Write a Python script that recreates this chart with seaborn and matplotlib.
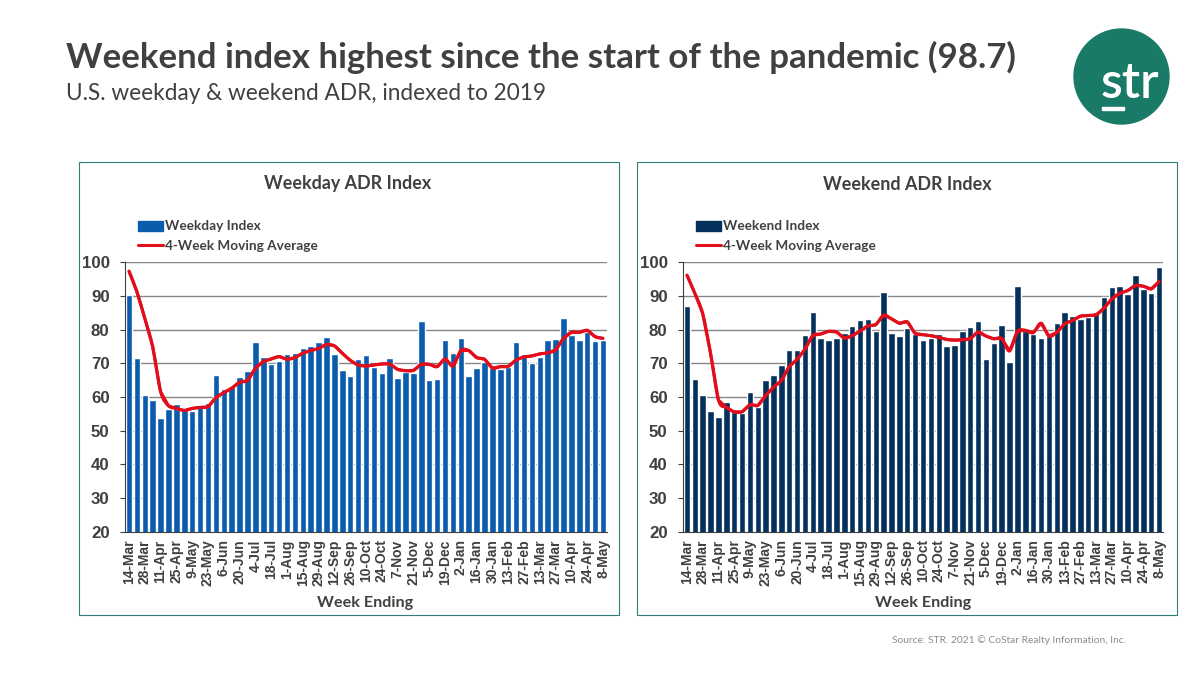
import matplotlib
matplotlib.use("Agg")
import matplotlib.pyplot as plt
from matplotlib.lines import Line2D
from matplotlib.patches import Circle, Patch, PathPatch, Rectangle
from matplotlib.path import Path
import numpy as np
import pandas as pd
import seaborn as sns

tick_labels = ["14-Mar", "28-Mar", "11-Apr", "25-Apr", "9-May", "23-May", "6-Jun", "20-Jun",
               "4-Jul", "18-Jul", "1-Aug", "15-Aug", "29-Aug", "12-Sep", "26-Sep", "10-Oct",
               "24-Oct", "7-Nov", "21-Nov", "5-Dec", "19-Dec", "2-Jan", "16-Jan", "30-Jan",
               "13-Feb", "27-Feb", "13-Mar", "27-Mar", "10-Apr", "24-Apr", "8-May"]

weekday_index = [90.3, 71.6, 60.6, 59.1, 53.8, 56.4, 57.9, 56.1, 55.8, 57.6,
                 58.2, 66.5, 62.4, 63.0, 65.9, 67.7, 76.3, 71.9, 69.8, 70.7,
                 72.8, 73.1, 74.6, 75.2, 76.3, 77.8, 72.8, 68.0, 66.2, 71.2,
                 72.5, 68.9, 67.1, 71.6, 65.6, 67.4, 67.1, 82.5, 65.0, 65.3,
                 76.9, 73.1, 77.5, 66.2, 68.6, 70.4, 68.6, 68.3, 69.0, 76.3,
                 72.8, 70.1, 71.9, 76.9, 77.2, 83.4, 78.4, 76.9, 79.4, 76.6, 76.9]
weekday_avg = [97.4, 91.3, 83.4, 75.0, 61.6, 57.4, 56.6, 56.0, 56.6, 56.9,
               57.1, 59.8, 61.3, 62.6, 64.4, 64.9, 68.5, 70.5, 71.3, 72.0,
               71.2, 71.7, 73.0, 73.8, 74.4, 75.6, 75.2, 73.0, 70.9, 69.5,
               69.2, 69.5, 69.8, 69.8, 68.2, 67.8, 67.9, 69.7, 69.7, 69.0,
               71.3, 69.2, 73.8, 73.8, 71.7, 71.2, 68.6, 69.0, 69.1, 71.0,
               71.9, 72.2, 72.8, 73.1, 74.0, 77.4, 79.2, 79.2, 79.8, 77.9, 77.4]

weekend_index = [87.0, 65.3, 60.6, 55.8, 54.1, 58.5, 55.6, 55.3, 61.5, 57.0,
                 65.0, 66.5, 69.5, 73.9, 73.9, 78.4, 85.2, 77.5, 76.9, 77.5,
                 79.0, 81.1, 82.9, 83.2, 79.6, 91.2, 79.0, 78.1, 80.5, 78.7,
                 76.9, 77.5, 78.7, 75.2, 75.4, 79.6, 80.8, 82.6, 71.3, 76.0,
                 81.4, 70.4, 93.0, 79.6, 78.7, 77.5, 78.1, 82.0, 85.2, 84.1,
                 83.2, 83.7, 85.2, 89.7, 92.7, 93.0, 90.6, 96.2, 92.0, 90.9, 98.7]
weekend_avg = [96.2, 90.8, 84.8, 73.0, 59.1, 56.9, 55.6, 55.6, 57.7, 57.5,
               60.4, 62.9, 64.9, 69.0, 71.2, 74.2, 78.3, 78.7, 79.5, 79.3,
               77.5, 78.2, 79.6, 81.1, 81.5, 84.3, 83.2, 81.9, 82.3, 78.9,
               78.5, 78.2, 77.7, 77.1, 76.9, 77.0, 77.3, 79.3, 78.1, 77.3,
               77.4, 73.7, 79.5, 79.8, 79.1, 81.9, 78.1, 79.2, 81.7, 82.7,
               84.0, 84.2, 84.4, 86.4, 89.1, 90.8, 91.6, 93.1, 92.9, 92.1, 94.3]

W, H = 1200, 675
TEXT = "#404040"
FRAME = "#2f7f78"
RED = "#e20e1c"
LINE_W = 2.2

sns.set_theme(style="white")
plt.rcParams["font.family"] = ["Lato", "DejaVu Sans"]

fig = plt.figure(figsize=(12, 6.75), dpi=100)

# full-slide layer, in pixels, for the frames, headings and logo
bg = fig.add_axes([0, 0, 1, 1], zorder=0)
bg.set_xlim(0, W)
bg.set_ylim(H, 0)
bg.axis("off")

bg.text(66, 57, "Weekend index highest since the start of the pandemic (98.7)", fontsize=25.1,
        fontweight="bold", color=TEXT, va="center", ha="left")
bg.text(66, 94, "U.S. weekday & weekend ADR, indexed to 2019", fontsize=16.3, color=TEXT,
        va="center", ha="left")
bg.text(892, 640, "Source: STR. 2021 © CoStar Realty Information, Inc.", fontsize=7.4,
        color="#8c8c8c", va="center", ha="left")

bg.add_patch(Circle((1121.5, 76.5), 47.5, color="#1a7a68"))
bg.text(1130, 98, "str", fontsize=36, fontweight="semibold", color="white", ha="center",
        va="baseline")
bg.add_patch(Rectangle((1102, 107), 22, 3, color="white"))


def smooth_path(x, y):
    # same rounding of the corners as the office chart's "smoothed line"
    pts = np.column_stack([x, y])
    prev_pts = np.vstack([pts[0], pts[:-1]])
    next_pts = np.vstack([pts[1:], pts[-1]])
    tangents = (next_pts - prev_pts) / 6
    verts = [pts[0]]
    for i in range(len(pts) - 1):
        verts += [pts[i] + tangents[i], pts[i + 1] - tangents[i + 1], pts[i + 1]]
    codes = [Path.MOVETO] + [Path.CURVE4] * (len(verts) - 1)
    return Path(verts, codes)


def draw_panel(frame_x, ax_x, title, week_x, values, avg, color, name):
    bg.add_patch(Rectangle((frame_x[0], 162), frame_x[1] - frame_x[0], 453, fill=False,
                           edgecolor=FRAME, linewidth=0.8))
    bg.text(title[0], 184, title[1], fontsize=12.9, fontweight="bold", color=TEXT,
            ha="center", va="center")
    bg.text(week_x, 602.5, "Week Ending", fontsize=11.6, fontweight="bold", color=TEXT,
            ha="center", va="center")

    ax = fig.add_axes([ax_x[0] / W, 1 - 531.7 / H, (ax_x[1] - ax_x[0]) / W, 269.4 / H], zorder=1)
    ax.patch.set_alpha(0)
    data = pd.DataFrame({"week": np.arange(len(values)), "index": values, "avg": avg})
    sns.barplot(data=data, x="week", y="index", color=color, saturation=1, width=0.82, ax=ax,
                zorder=2)
    sns.lineplot(data=data, x="week", y="avg", color=RED, linewidth=LINE_W, ax=ax, zorder=3)
    ax.lines[-1].set_solid_joinstyle("round")
    ax.add_patch(PathPatch(smooth_path(data["week"], data["avg"]), fill=False, edgecolor=RED,
                           linewidth=LINE_W, zorder=3))

    ax.set_xlim(-0.5, len(values) - 0.5)
    ax.set_ylim(20, 100)
    ax.set_yticks(range(20, 101, 10))
    ax.set_xticks(np.arange(len(values))[::2])
    ax.set_xticklabels(tick_labels, rotation=90, fontsize=10, fontweight="bold", color=TEXT,
                       family=["Liberation Sans"])
    ax.set_yticklabels(range(20, 101, 10), fontsize=12.2, fontweight="bold", color=TEXT,
                       family=["Liberation Sans"])
    ax.set_xlabel("")
    ax.set_ylabel("")
    ax.grid(axis="y", color="#868686", linewidth=1)
    ax.set_axisbelow(True)
    ax.tick_params(axis="y", length=3.5, width=0.8, color="#404040", pad=7.5, left=True)
    ax.tick_params(axis="x", length=0, pad=5.5)
    sns.despine(ax=ax, top=True, right=True)
    ax.spines["left"].set_color("#404040")
    ax.spines["bottom"].set_color("#404040")
    ax.spines["left"].set_linewidth(0.8)
    ax.spines["bottom"].set_linewidth(0.8)

    handles = [Patch(color=color), Line2D([], [], color=RED, linewidth=LINE_W)]
    ax.legend(handles, [name, "4-Week Moving Average"], frameon=False, loc="upper left",
              bbox_to_anchor=((frame_x[0] + 59) / W, 1 - 220.5 / H), bbox_transform=fig.transFigure,
              prop={"family": "Lato", "weight": "bold", "size": 9.8}, labelcolor=TEXT,
              handlelength=1.85, handletextpad=0.15, labelspacing=0.55, borderpad=0, borderaxespad=0)
    return ax


draw_panel((79, 619), (125, 607), (348, "Weekday ADR Index"), 365, weekday_index, weekday_avg,
           "#0b5cad", "Weekday Index")
draw_panel((637, 1177), (683, 1163), (907, "Weekend ADR Index"), 923, weekend_index, weekend_avg,
           "#04305c", "Weekend Index")

fig.savefig("out.png", dpi=100)
